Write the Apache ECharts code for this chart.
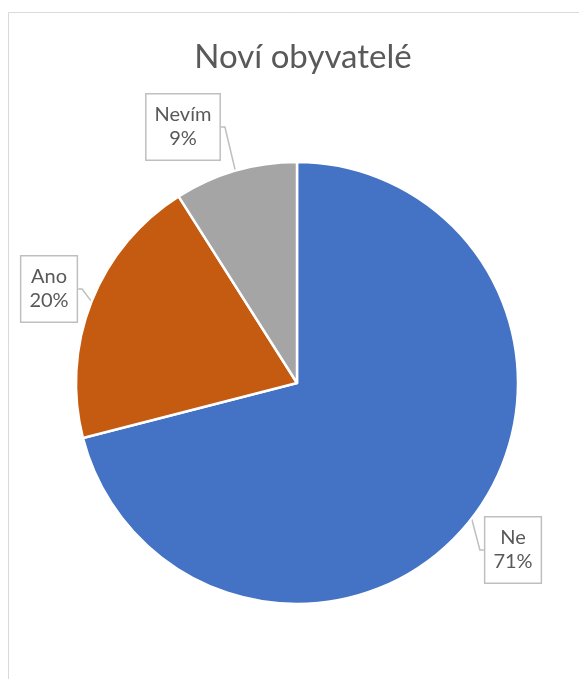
<!DOCTYPE html>
<html>
<head>
<meta charset="utf-8">
<script src="https://cdn.jsdelivr.net/npm/echarts@6/dist/echarts.min.js"></script>
<style>
	html, body { margin: 0; padding: 0; background: #fff; }
	#chart { width: 579px; height: 679px; }
</style>
</head>
<body>
<div id="chart"></div>
<script>
// data
let categories = ['Ne', 'Ano', 'Nevím'];
let values = [71, 20, 9];
let colors = ['#4472C4', '#C55A11', '#A5A5A5'];

// where the callout boxes sit (box centres)
let labelSpots = [
	[513, 550],
	[49, 289],
	[183, 127]
];

let temp = [];
for (let i = 0; i < categories.length; i++) {
	temp.push({ name: categories[i], value: values[i], itemStyle: { color: colors[i] } });
}

let font = 'Lato, "Open Sans", sans-serif';

let myChart = echarts.init(document.getElementById('chart'));
let option = {
	animation: false,
	title: {
		text: 'Noví obyvatelé',
		left: 298,
		top: 36,
		textAlign: 'center',
		textStyle: {
			color: '#595959',
			fontSize: 33,
			fontWeight: 'normal',
			fontFamily: font
		}
	},
	graphic: [
		{
			type: 'rect',
			z: -1,
			shape: { x: 8.5, y: 12.5, width: 700, height: 800 },
			style: { fill: 'none', stroke: '#D9D9D9', lineWidth: 1 }
		}
	],
	series: [
		{
			name: 'Noví obyvatelé',
			type: 'pie',
			center: [297, 383],
			radius: 221,
			startAngle: 90,
			clockwise: true,
			itemStyle: {
				borderColor: '#fff',
				borderWidth: 2.5
			},
			label: {
				show: true,
				formatter: '{b}\n{d}%',
				color: '#595959',
				fontSize: 20,
				lineHeight: 24,
				fontFamily: font,
				align: 'center',
				backgroundColor: '#fff',
				borderColor: '#BFBFBF',
				borderWidth: 1.5,
				padding: [9, 8, 8, 8]
			},
			labelLine: {
				show: true,
				length: 8,
				length2: 4,
				lineStyle: { color: '#BFBFBF', width: 1.5 }
			},
			labelLayout: function (params) {
				let p = labelSpots[params.dataIndex];
				return {
					x: p[0],
					y: p[1],
					align: 'center',
					verticalAlign: 'middle'
				};
			},
			emphasis: { disabled: true },
			data: temp
		}
	]
};
myChart.setOption(option);
</script>
</body>
</html>
